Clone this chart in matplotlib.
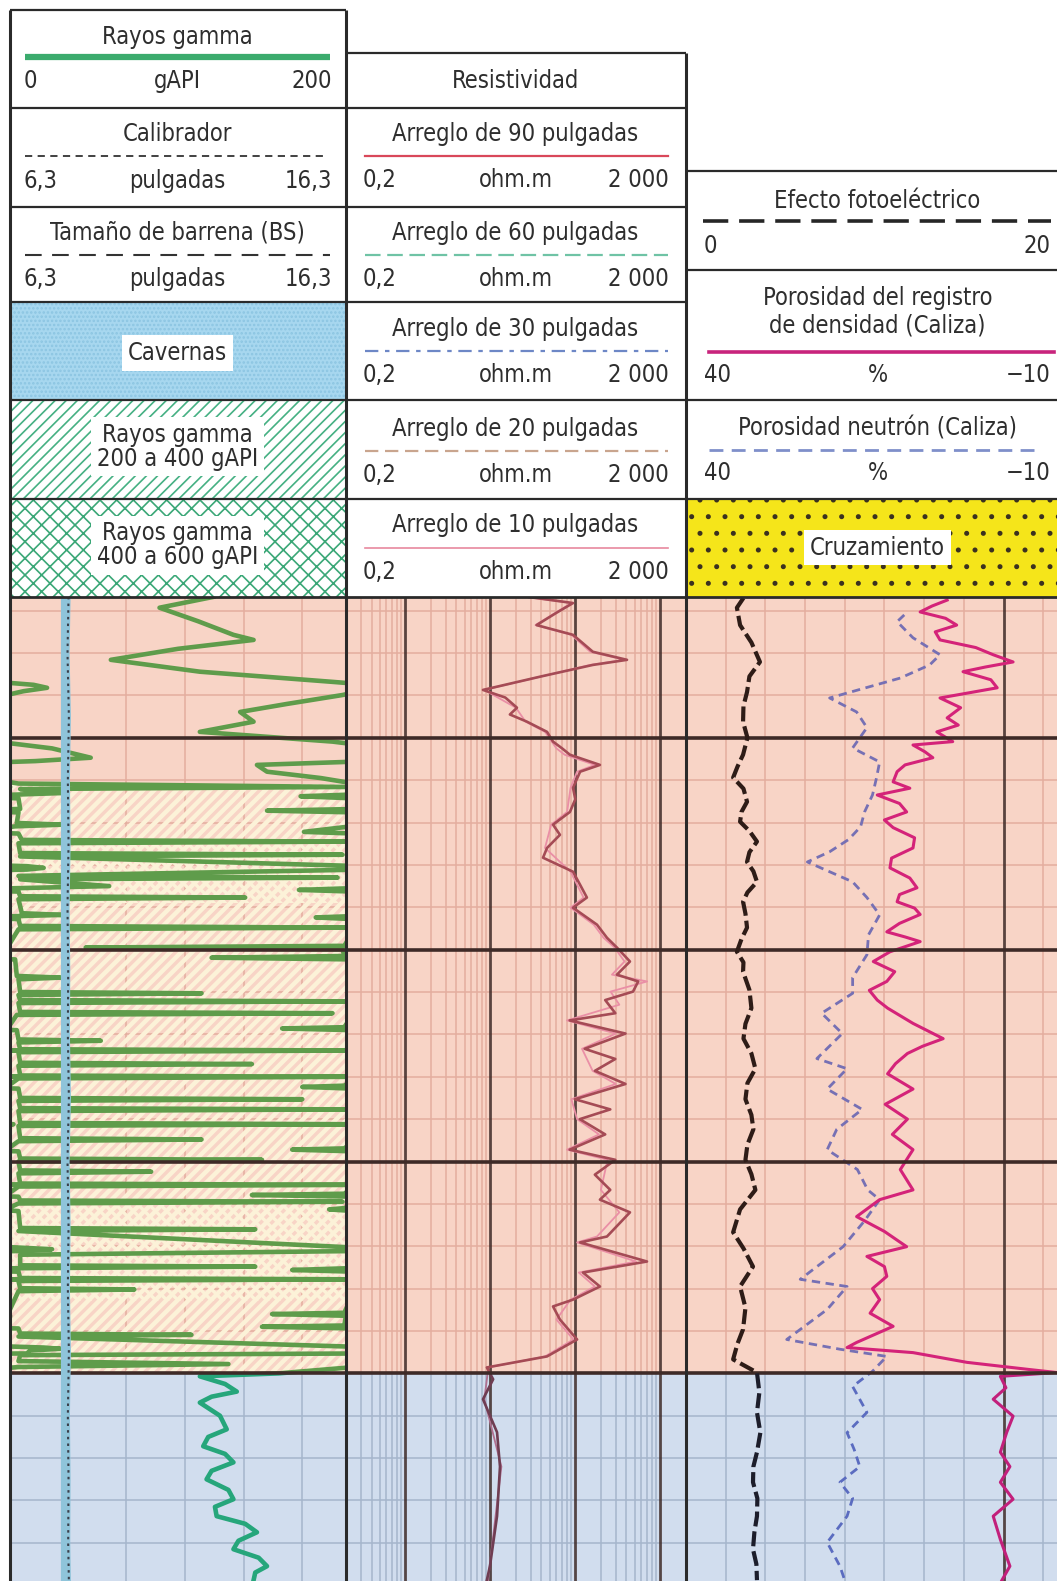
import numpy as np
import matplotlib
matplotlib.use('Agg')
import matplotlib.pyplot as plt
from matplotlib import font_manager
from matplotlib.patches import Rectangle
from matplotlib.transforms import blended_transform_factory

# ---------------- log data ----------------
# gamma ray (gAPI) -- values above 200 wrap onto the 200-400 / 400-600 backup scales
gr_depth = [16.75, 19.3, 22.5, 25.7, 26.9, 29.0, 31.6, 34.4, 36.8, 37.5, 38.2, 39.0, 39.9, 42.0, 43.9,
            46.2, 48.6, 50.9, 52.5, 54.7, 55.5, 56.4, 58.0, 59.5, 60.8, 61.6, 62.1, 63.0, 63.4, 63.8,
            64.3, 66.8, 67.2, 67.6, 70.1, 70.5, 70.9, 72.2, 72.6, 74.1, 74.5, 74.9, 77.2, 77.6, 78.0,
            80.3, 80.7, 81.1, 82.6, 83.0, 83.4, 85.0, 85.5, 85.9, 86.3, 87.4, 87.7, 88.1, 91.4, 91.8,
            92.1, 92.4, 92.8, 94.4, 94.8, 95.2, 99.1, 99.5, 99.9, 101.5, 101.9, 102.3, 106.2, 106.6,
            107.0, 110.0, 110.3, 110.7, 111.9, 112.2, 112.6, 114.7, 115.0, 115.4, 118.3, 118.6, 119.0,
            121.2, 121.5, 121.9, 123.5, 123.8, 124.2, 126.7, 127.0, 127.4, 129.7, 130.0, 130.4, 132.1,
            132.4, 132.8, 135.0, 135.3, 135.7, 137.4, 137.7, 138.1, 140.9, 141.2, 141.6, 144.5, 144.8,
            145.2, 146.9, 147.2, 147.6, 149.3, 149.6, 150.0, 152.1, 152.4, 152.8, 155.2, 155.5, 155.9,
            157.6, 157.9, 158.3, 159.2, 159.5, 159.9, 161.0, 161.3, 161.7, 165.7, 166.0, 166.4, 170.4,
            170.7, 171.1, 172.0, 174.5, 174.8, 175.2, 175.6, 176.0, 177.5, 177.8, 178.2, 179.9, 180.2,
            180.6, 185.7, 186.0, 186.4, 188.7, 189.0, 189.4, 190.6, 190.9, 191.3, 193.9, 194.2, 194.6,
            195.3, 195.7, 197.1, 197.8, 198.5, 200.0, 200.7, 202.5, 204.3, 205.5, 206.9, 210.0, 213.2,
            215.0, 217.2, 219.0, 221.0, 223.0, 225.0, 227.5, 229.7, 231.5, 233.7, 235.5, 237.5, 239.5,
            241.5, 243.5, 245.5, 247.0, 248.8]
gr_api = [121, 89, 112, 133, 145, 100, 60, 113, 192, 214, 222, 208, 198, 165, 137,
          145, 113, 192, 225, 248, 215, 147, 153, 185, 205, 400, 206, 234, 204, 173,
          205, 206, 153, 205, 204, 231, 203, 175, 205, 207, 400, 205, 206, 398, 206,
          410, 420, 410, 205, 395, 206, 259, 203, 172, 205, 206, 340, 205, 207, 231,
          203, 182, 205, 206, 400, 205, 199, 45, 198, 199, 120, 203, 204, 230,
          205, 206, 314, 205, 206, 400, 205, 206, 392, 204, 199, 162, 204,
          205, 254, 205, 206, 405, 205, 206, 344, 205, 206, 410, 205, 199,
          174, 205, 206, 374, 205, 206, 400, 205, 206, 402, 205, 206, 314,
          205, 199, 168, 205, 206, 350, 205, 206, 284, 205, 206, 410, 205,
          199, 144, 205, 206, 398, 205, 199, 190, 205, 206, 346, 205, 410,
          425, 412, 206, 206, 346, 200, 168, 205, 206, 405, 205, 206, 274,
          205, 199, 156, 200, 199, 150, 205, 206, 308, 205, 420, 430, 412,
          410, 206, 205, 330, 205, 160, 113, 128, 135, 120, 113, 125, 129,
          118, 115, 128, 133, 120, 117, 130, 133, 122, 123, 140, 147, 136,
          133, 148, 153, 146, 145]

# depth intervals shaded on the gamma ray backup scales
gr_200_400_top = [61.0]
gr_200_400_bot = [200.0]
gr_400_600_top = [74.0, 160.5]
gr_400_600_bot = [89.0, 183.0]

# caliper and bit size (in)
cal_depth = [16.75, 30, 45, 60, 75, 90, 105, 120, 135, 150, 165, 180, 195, 210, 225, 240, 249]
caliper_in = [8.04, 8.01, 8.05, 8.02, 8.04, 8.01, 8.03, 8.02, 8.05, 8.01, 8.04, 8.02, 8.05, 8.02, 8.04, 8.03, 8.05]
bs_depth = [16.75, 249.0]
bit_size_in = [7.875, 7.875]

# array induction resistivity (ohm.m)
res_depth = [16.8, 18.2, 20.5, 23.4, 25.7, 29.7, 31.6, 32.8, 35.5, 38.7, 40.5, 42.9, 44.5, 46.2,
             48.6, 50.9, 52.5, 54.0, 56.4, 58.0, 61.8, 64.5, 67.5, 70.5, 72.9, 76.0, 78.3, 81.6,
             84.7, 87.7, 90.1, 94.1, 97.2, 99.5, 102.8, 105.9, 107.5, 109.9, 111.9, 115.0, 116.7,
             119.8, 123.4, 125.8, 128.6, 131.7, 135.3, 137.7, 140.0, 143.6, 147.2, 149.6, 153.1,
             156.7, 159.0, 162.0, 167.7, 169.1, 173.6, 176.2, 179.5, 182.6, 184.2, 187.3, 192.0,
             196.0, 198.6, 201.4, 206.1, 213.9, 222.0, 233.7, 245.5, 248.8]
res_90 = [29, 94, 60, 35, 94, 161, 406, 161, 40, 8.2, 15, 20.6, 17, 27,
          46.5, 54.7, 70, 86.5, 195, 114, 94, 100, 86.5, 54.7, 66, 46.5, 41.7, 94,
          114, 137, 94, 180, 236, 309, 440, 309, 550, 478, 225, 296, 86,
          390, 129, 296, 170, 390, 99, 258, 113, 225, 86, 296, 170,
          258, 195, 440, 236, 114, 698, 123, 195, 94, 54.7, 66, 105,
          46.5, 9.1, 10.8, 8.2, 12, 13, 12, 9.9, 9.1]
res10_depth = [16.8, 18.2, 23.4, 25.7, 29.7, 31.6, 32.8, 38.7, 42.9, 46.2, 48.6, 52.5, 54.0, 56.4,
               58.0, 61.8, 67.5, 70.5, 76.0, 81.6, 87.7, 90.1, 94.1, 97.2, 99.5, 102.8, 105.9,
               107.5, 109.9, 113.0, 116.7, 119.8, 123.4, 128.6, 131.7, 135.3, 140.0, 143.6, 147.2,
               149.6, 156.7, 162.0, 167.7, 169.1, 173.6, 176.2, 179.5, 182.6, 187.3, 192.0, 196.0,
               198.6, 206.1, 222.0, 248.8]
res_10 = [28, 90, 34, 90, 150, 380, 150, 8.5, 20, 26, 44, 60, 75, 170,
          105, 88, 80, 52, 44, 88, 125, 88, 165, 215, 290, 380, 270,
          700, 260, 330, 80, 300, 120, 160, 300, 90, 105, 190, 80,
          240, 200, 330, 180, 105, 520, 110, 170, 88, 60, 95, 44,
          9.5, 8.5, 13.5, 9.4]

# photoelectric factor
pe_depth = [17.0, 19.3, 23.4, 27.5, 32.1, 35.5, 39.2, 42.5, 46.2, 50.0, 54.0, 56.8, 59.4, 62.0,
            65.1, 67.5, 69.8, 72.0, 74.5, 77.0, 79.3, 81.5, 84.0, 86.5, 88.7, 91.5, 94.8, 97.5,
            100.5, 103.0, 105.2, 109.5, 113.8, 117.5, 121.0, 124.5, 128.1, 131.5, 135.3, 139.0,
            142.4, 146.0, 149.6, 153.0, 156.7, 161.3, 166.7, 170.5, 174.8, 179.5, 184.5, 189.6,
            193.0, 196.7, 199.8, 204.5, 209.2, 214.0, 218.6, 222.0, 225.7, 229.5, 233.7, 237.5,
            241.5, 245.0, 248.8]
pe_barns = [2.9, 2.57, 2.73, 3.3, 3.73, 3.2, 3.08, 2.9, 2.88, 3.1, 2.88, 2.6, 2.38, 2.9,
            3.08, 2.8, 2.73, 3.2, 3.58, 3.2, 3.08, 3.4, 3.58, 3.1, 2.88, 3.0, 3.08, 2.8,
            2.57, 2.9, 2.88, 3.2, 3.3, 3.0, 2.9, 3.3, 3.5, 3.1, 3.0, 3.3,
            3.4, 3.1, 3.0, 3.3, 3.5, 2.73, 2.38, 2.9, 3.38, 2.73, 3.0, 2.88,
            2.6, 2.38, 3.58, 3.7, 3.58, 3.75, 3.58, 3.4, 3.38, 3.6, 3.58, 3.45,
            3.38, 3.55, 3.58]

# density porosity, limestone matrix (%)
dphi_depth = [17.5, 18.9, 20.3, 21.8, 23.4, 25.0, 26.9, 28.7, 30.4, 32.1, 33.3, 34.4, 36.3, 38.2,
              40.6, 42.9, 45.3, 47.0, 48.6, 50.9, 51.7, 53.3, 54.7, 56.4, 58.0, 60.4, 61.9, 63.5,
              65.5, 67.5, 69.4, 71.2, 73.6, 76.0, 78.4, 80.7, 83.1, 85.4, 87.0, 88.7, 90.2, 91.7,
              93.8, 95.8, 97.0, 98.1, 100.5, 102.8, 105.2, 107.5, 109.6, 111.9, 113.8, 117.4, 121.0,
              122.8, 124.5, 126.9, 129.3, 132.9, 136.5, 140.0, 143.6, 147.2, 151.9, 156.7, 159.0,
              163.0, 166.5, 170.1, 172.4, 174.8, 177.1, 180.0, 182.6, 185.8, 188.9, 192.7, 193.9,
              195.1, 197.4, 199.1, 199.8, 200.7, 203.4, 206.1, 210.1, 213.9, 218.6, 222.0, 225.7,
              229.7, 233.7, 239.2, 245.5, 248.8]
dphi_pct = [7.1, 9.0, 10.5, 7.3, 5.9, 8.6, 8.0, 3.5, 1.3, -1.2, 2.3, 5.1, 1.6, 0.8,
            8.0, 5.4, 7.1, 5.7, 8.4, 6.4, 11.4, 9.9, 8.9, 12.4, 13.4, 13.9, 11.8, 15.9,
            13.1, 12.2, 15.0, 13.9, 11.2, 11.4, 14.1, 14.3, 11.8, 10.9, 13.1, 13.4, 11.2, 10.5,
            13.1, 14.7, 12.4, 10.5, 14.3, 16.4, 13.7, 14.7, 16.9, 15.9, 14.6, 11.4, 7.6,
            10.2, 12.1, 13.6, 14.6, 11.4, 14.9, 12.1, 14.0, 11.4, 13.0, 11.4, 15.6,
            18.5, 15.0, 12.2, 17.2, 15.0, 14.7, 16.5, 15.6, 16.8, 13.9, 18.5, 19.7,
            11.4, 4.6, -3.3, -6.7, 0.4, -0.3, 1.3, -1.2, -0.4, 0.4, -0.8, 0.4,
            -1.2, 1.3, 0.4, -0.8, 0.2]

# neutron porosity, limestone matrix (%)
nphi_depth = [21.0, 22.6, 26.4, 30.4, 32.8, 35.9, 40.6, 43.9, 47.6, 52.4, 55.7, 59.5, 63.5, 67.5,
              71.0, 74.0, 76.9, 79.3, 84.0, 87.7, 91.8, 96.5, 101.2, 106.6, 110.3, 115.0, 119.8,
              125.7, 128.1, 132.9, 137.7, 142.4, 147.2, 151.9, 156.7, 159.0, 164.0, 170.1, 177.8,
              179.5, 184.9, 192.0, 194.3, 196.0, 199.5, 203.1, 209.2, 214.0, 218.0, 222.0, 225.7,
              229.5, 233.7, 239.9, 245.5, 248.8]
nphi_pct = [12.5, 13.4, 11.4, 8.0, 9.3, 13.0, 21.9, 18.5, 17.2, 19.0, 15.6, 16.0, 16.5, 17.5,
            18.0, 19.5, 21.9, 24.7, 19.0, 17.2, 15.6, 17.0, 17.2, 19.0, 19.0, 22.9, 20.3,
            23.5, 19.7, 22.2, 17.8, 21.0, 22.2, 18.4, 17.1, 15.6, 17.5, 20.2, 25.6,
            19.7, 22.2, 27.3, 20.6, 14.7, 16.5, 19.0, 17.2, 19.7, 18.8, 18.1, 20.6,
            19.0, 19.7, 22.2, 20.6, 20.0]

# ---------------- styling ----------------
names = {f.name for f in font_manager.fontManager.ttflist}
if 'Liberation Sans Narrow' in names:
    FONT, FS, STRETCH = ['Liberation Sans Narrow', 'DejaVu Sans'], 17, 'normal'
else:
    FONT, FS, STRETCH = ['DejaVu Sans'], 17, 'condensed'
TXT = '#2e2e2e'
EDGE = '#2a2a2a'

W, H = 1048, 1568          # sheet layout units
LOG_TOP_Y = 592            # where the log tracks start on the sheet
TOP, BOT = 16.75, 249.0    # depth window
ZONES = [(TOP, 200.0), (200.0, BOT)]
BG = ['#f8d4c6', '#d1ddee']
GRID = ['#e4ad9e', '#a5b5cc']
HEAVY = '#3e2a27'
STRIPE = '#fcf2d8'

fig = plt.figure(figsize=(10.57, 15.81), dpi=100)
fig.patch.set_facecolor('white')


def sheet_rect(x0, x1):
    return [x0 / W, 0, (x1 - x0) / W, (H - LOG_TOP_Y) / H]


def base_track(ax, vlines_light, vlines_heavy=()):
    ax.set_ylim(BOT, TOP)
    ax.set_xticks([])
    ax.set_yticks([])
    ax.minorticks_off()
    for s in ax.spines.values():
        s.set_visible(False)
    for (z0, z1), c, g in zip(ZONES, BG, GRID):
        ax.axhspan(z0, z1, color=c, lw=0, zorder=0)
        ax.vlines(vlines_light, z0, z1, colors=g, lw=1.1, zorder=1)
        if len(vlines_heavy):
            ax.vlines(vlines_heavy, z0, z1, colors=HEAVY, lw=2.0, zorder=1.2, alpha=0.85)
    for d in range(20, 250, 10):
        if d % 50:
            ax.axhline(d, color=GRID[0] if d < 200 else GRID[1], lw=1.1, zorder=1)
    for d in (50, 100, 150, 200):
        ax.axhline(d, color=HEAVY, lw=2.6, zorder=4)


def zone_plot(ax, x, y, colors, **kw):
    trans = blended_transform_factory(ax.transAxes, ax.transData)
    for (z0, z1), c in zip(ZONES, colors):
        line, = ax.plot(x, y, color=c, **kw)
        line.set_clip_path(Rectangle((0, z0), 1, z1 - z0, transform=trans))


def shade(ax, tops, bots, hatch, color, lw=3.2, z=1.5):
    for t, b in zip(tops, bots):
        p = ax.fill_betweenx([t, b], 0, 200, facecolor='none', edgecolor=color,
                             hatch=hatch, lw=0, zorder=z)
        if hasattr(p, 'set_hatch_linewidth'):
            p.set_hatch_linewidth(lw)


# ---------------- track 1: gamma ray + caliper ----------------
ax1 = fig.add_axes(sheet_rect(10, 343), zorder=1)
ax1.set_xlim(0, 200)
base_track(ax1, [34, 69, 104, 139, 174])

with plt.rc_context({'hatch.linewidth': 3.2}):
    shade(ax1, gr_200_400_top, gr_200_400_bot, '///', STRIPE)
    shade(ax1, gr_400_600_top, gr_400_600_bot, '\\\\\\', STRIPE, lw=2.4, z=1.6)

gr = np.array(gr_api, dtype=float)
gd = np.array(gr_depth)
gr_colors = ['#5f9c4b', '#26a67b']
for shift in (0, 200, 400):
    zone_plot(ax1, gr - shift, gd, gr_colors, lw=3.3, zorder=3, solid_joinstyle='round')

axc = fig.add_axes(sheet_rect(10, 343), zorder=2)
axc.set_xlim(6.3, 16.3)
axc.set_ylim(BOT, TOP)
axc.axis('off')
axc.fill_betweenx(cal_depth, 7.875, caliper_in, color='#8fc4da', lw=0)
axc.plot(caliper_in, cal_depth, color='#8fc4da', lw=3.0)
axc.plot(bit_size_in, bs_depth, color='#8fc4da', lw=3.0)
axc.plot(caliper_in, cal_depth, color='#3a3f4a', lw=1.5, dashes=(1.2, 2.0))

# ---------------- track 2: resistivity ----------------
ax2 = fig.add_axes(sheet_rect(343, 680), zorder=1)
ax2.set_xscale('log')
ax2.set_xlim(0.2, 2000)
fine = [m * 10.0 ** e for e in range(-1, 4) for m in range(2, 10) if 0.2 < m * 10.0 ** e < 2000]
base_track(ax2, fine, [1, 10, 100, 1000])
zone_plot(ax2, res_10, res10_depth, ['#ea8fa6', '#b07090'], lw=1.3, zorder=2.8)
zone_plot(ax2, res_90, res_depth, ['#a54b55', '#6f3d52'], lw=1.9, zorder=3)

# ---------------- track 3: PE, density and neutron porosity ----------------
ax3 = fig.add_axes(sheet_rect(680, W), zorder=1)
ax3.set_xlim(40, 40 - 368 / 7.875)
base_track(ax3, [35, 30, 25, 20, 15, 10, 5, -5], [0])
zone_plot(ax3, nphi_pct, nphi_depth, ['#7670b4', '#5b6cc0'], lw=2.0, dashes=(3, 2), zorder=3)
zone_plot(ax3, dphi_pct, dphi_depth, ['#d42379', '#c21f7b'], lw=2.2, zorder=3.2)

axpe = fig.add_axes(sheet_rect(680, W), zorder=2)
axpe.set_xlim(0, 20 * 368 / 394)
axpe.set_ylim(BOT, TOP)
axpe.axis('off')
zone_plot(axpe, pe_barns, pe_depth, ['#2e1c17', '#1c1d2b'], lw=3.0, dashes=(3.6, 1.2), zorder=3)

# ---------------- header ----------------
hd = fig.add_axes([0, 0, 1, 1], zorder=5)
hd.set_xlim(0, W)
hd.set_ylim(H, 0)
hd.axis('off')


def txt(x, y, s, ha='center', box=False):
    kw = dict(ha=ha, va='center', fontsize=FS, color=TXT, family=FONT,
              fontstretch=STRETCH, linespacing=1.0, zorder=4)
    if box:
        kw['bbox'] = dict(facecolor='white', edgecolor='none', pad=4)
    hd.text(x, y, s, **kw)


def hline(x0, x1, y, lw=1.6, color=EDGE):
    hd.plot([x0, x1], [y, y], color=color, lw=lw, solid_capstyle='butt', zorder=3)


def vline(x, y0, y1, lw=1.6, color=EDGE):
    hd.plot([x, x], [y0, y1], color=color, lw=lw, solid_capstyle='butt', zorder=3)


# patterned legend cells
with plt.rc_context({'hatch.linewidth': 1.2}):
    hd.add_patch(Rectangle((10, 300), 333, 97, facecolor='#a7d7ef', edgecolor='#8cc5e2',
                           hatch='....', lw=0, zorder=1))
    hd.add_patch(Rectangle((10, 397), 333, 98, facecolor='white', edgecolor='#45b083',
                           hatch='///', lw=0, zorder=1))
    hd.add_patch(Rectangle((10, 495), 333, 97, facecolor='white', edgecolor='#3aa777',
                           hatch='xx', lw=0, zorder=1))
    hd.add_patch(Rectangle((680, 495), 368, 97, facecolor='#f5e51a', edgecolor='#3b3120',
                           hatch='.', lw=0, zorder=1))

# cell borders
hline(10, 343, 10)
hline(343, 680, 53)
hline(680, W, 170)
for y in (107, 205, 300):
    hline(10, 680, y)
hline(680, W, 268)
for y in (397, 495):
    hline(10, W, y)
hline(10, W, LOG_TOP_Y, lw=2.0)
vline(10, 10, H, lw=2.2)
vline(343, 10, H, lw=2.2)
vline(680, 53, H, lw=2.2)

# column 1
c1, l1, r1 = 176, 23, 329
txt(c1, 37, 'Rayos gamma')
hd.plot([25, 327], [57, 57], color='#3bab6d', lw=4.5, solid_capstyle='butt')
txt(l1, 80, '0', 'left'); txt(c1, 80, 'gAPI'); txt(r1, 80, '200', 'right')
txt(c1, 133, 'Calibrador')
hd.plot([25, 325], [155, 155], color='#333333', lw=1.3, dashes=(4, 3))
txt(l1, 180, '6,3', 'left'); txt(c1, 180, 'pulgadas'); txt(r1, 180, '16,3', 'right')
txt(c1, 231, 'Tamaño de barrena (BS)')
hd.plot([25, 327], [253, 253], color='#333333', lw=1.5, dashes=(8, 5))
txt(l1, 277, '6,3', 'left'); txt(c1, 277, 'pulgadas'); txt(r1, 277, '16,3', 'right')
txt(c1, 350, 'Cavernas', box=True)
txt(c1, 443, 'Rayos gamma\n200 a 400 gAPI', box=True)
txt(c1, 541, 'Rayos gamma\n400 a 600 gAPI', box=True)

# column 2
c2, l2, r2 = 511, 360, 663
txt(c2, 80, 'Resistividad')
res_rows = [('90', 133, dict(color='#d9485a', lw=1.6)),
            ('60', 231, dict(color='#6fc3a5', lw=1.6, dashes=(7, 3))),
            ('30', 326, dict(color='#6d87c6', lw=1.6, dashes=(6, 3, 2, 3))),
            ('20', 425, dict(color='#c9a58e', lw=1.6, dashes=(6, 3))),
            ('10', 521, dict(color='#e8899e', lw=1.2))]
for inch, y, style in res_rows:
    txt(c2, y, f'Arreglo de {inch} pulgadas')
    hd.plot([362, 662], [y + 22, y + 22], **style)
    txt(l2, y + 46, '0,2', 'left'); txt(c2, y + 46, 'ohm.m'); txt(r2, y + 46, '2 000', 'right')

# column 3
c3, l3, r3 = 870, 698, 1042
txt(c3, 199, 'Efecto fotoeléctrico')
hd.plot([697, 1042], [219, 219], color='#262626', lw=2.6, dashes=(7, 3))
txt(l3, 244, '0', 'left'); txt(r3, 244, '20', 'right')
txt(c3, 296, 'Porosidad del registro')
txt(c3, 323, 'de densidad (Caliza)')
hd.plot([703, 1045], [349, 349], color='#c8247c', lw=2.6)
txt(l3, 372, '40', 'left'); txt(c3, 372, '%'); txt(r3, 372, '−10', 'right')
txt(c3, 425, 'Porosidad neutrón (Caliza)')
hd.plot([703, 1025], [446, 446], color='#7f8fca', lw=2.0, dashes=(5, 3))
txt(l3, 469, '40', 'left'); txt(c3, 469, '%'); txt(r3, 469, '−10', 'right')
txt(c3, 543, 'Cruzamiento', box=True)

fig.savefig('out.png', dpi=100)
